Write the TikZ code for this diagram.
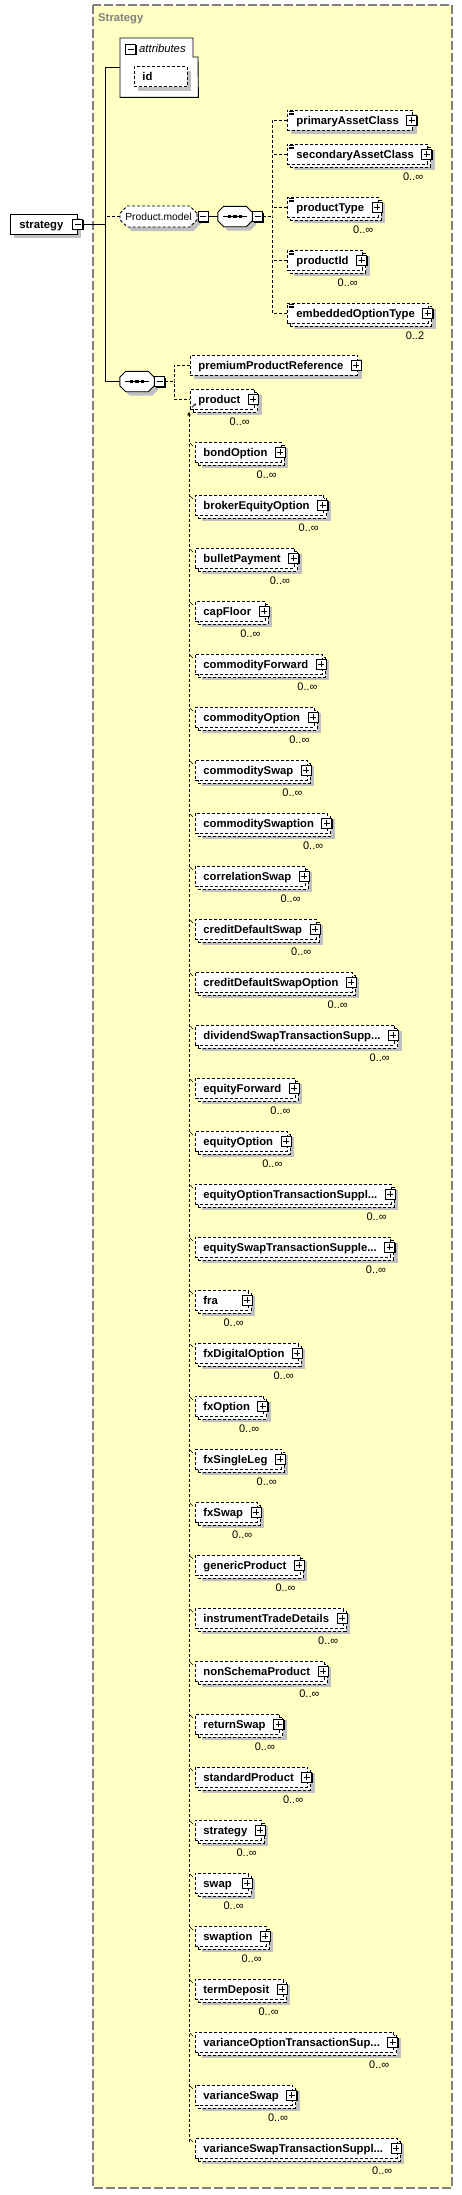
\documentclass[tikz,border=0pt]{standalone}
\usepackage{fontspec}
\setmainfont{Liberation Sans}
\usetikzlibrary{shapes.misc,arrows.meta,calc}
\definecolor{bgyellow}{RGB}{255,255,196}
\definecolor{shgray}{RGB}{192,192,192}
\definecolor{framegray}{RGB}{128,128,128}
\newcommand\xdots{...}
\newcommand\xsdpad[2]{\setbox0=\hbox{\hspace*{#1}#2\hspace*{14pt}}\ifdim\wd0<53pt \wd0=53pt\fi\box0}
\tikzset{
  dsh/.style={dash pattern=on 3pt off 2pt},
  conn/.style={line width=0.9pt},
  elembox/.style={draw, dsh, fill=white, line width=0.9pt, inner sep=0pt, minimum height=20pt,
    text height=9.5pt, text depth=1.5pt, font=\bfseries\fontsize{11.3}{13}\selectfont},
  xsingle/.style={preaction={draw=none, fill=shgray, transform canvas={xshift=4pt,yshift=-4pt}}},
  xmulti/.style={preaction={draw=none, fill=shgray, transform canvas={xshift=7pt,yshift=-6pt}},
    preaction={draw=black, fill=white, dsh, line width=0.9pt, transform canvas={xshift=3pt,yshift=-3pt}}},
  plusbox/.style={draw, solid, fill=white, line width=0.8pt, minimum size=10pt, inner sep=0pt,
    preaction={draw=none, fill=black, transform canvas={xshift=1pt,yshift=-1pt}},
    path picture={\draw[line width=0.8pt] ([xshift=2pt]path picture bounding box.west) -- ([xshift=-2pt]path picture bounding box.east)
      ([yshift=-2pt]path picture bounding box.north) -- ([yshift=2pt]path picture bounding box.south);}},
  minusbox/.style={draw, solid, fill=white, line width=0.8pt, minimum size=10pt, inner sep=0pt,
    preaction={draw=none, fill=black, transform canvas={xshift=1pt,yshift=-1pt}},
    path picture={\draw[line width=0.8pt] ([xshift=2pt]path picture bounding box.west) -- ([xshift=-2pt]path picture bounding box.east);}},
  occ/.style={font=\fontsize{11}{13}\selectfont, inner sep=0pt},
  pmodel/.style={chamfered rectangle, chamfered rectangle xsep=4pt, draw, dsh, fill=white, line width=0.9pt, xsingle,
    minimum width=77pt, minimum height=21pt, inner sep=0pt, font=\fontsize{10.3}{12}\selectfont},
  seqanchor/.style={rectangle, draw=none, minimum width=34pt, minimum height=20pt, inner sep=0pt},
  seqshape/.style={draw, solid, fill=white, line width=0.9pt,
    preaction={draw=none, fill=shgray, transform canvas={xshift=4pt,yshift=-4pt}}},
}
\newcommand\xsdelem[7]{%
  \node[elembox,#6,anchor=west] (#1) at (#2,#3) {\xsdpad{#7}{#4}};
  \node[plusbox] (#1p) at ([xshift=-1.5pt]#1.east) {};
  \ifx\relax#5\relax\else
    \node[occ,anchor=east] (#1o) at ([xshift=-5pt,yshift=-23pt]#1.east) {#5};
  \fi
}
\newcommand\xsdicon[1]{%
  \draw[line width=0.7pt] ([shift={(2pt,-1.5pt)}]#1.north west) -- ++(4.5,0)
    ([shift={(2pt,-3.3pt)}]#1.north west) -- ++(4.5,0)
    ([shift={(2pt,-5.1pt)}]#1.north west) -- ++(4.5,0);}
\newcommand\xsdseq[1]{%
  \draw[seqshape] ([xshift=6pt]#1.north west) -- ([xshift=-6pt]#1.north east) -- ([yshift=-6pt]#1.north east)
    -- ([yshift=6pt]#1.south east) -- ([xshift=-6pt]#1.south east) -- ([xshift=6pt]#1.south west)
    -- ([yshift=6pt]#1.south west) -- ([yshift=-6pt]#1.north west) -- cycle;
  \draw[line width=0.9pt] ([xshift=5pt]#1.west) -- ([xshift=-5pt]#1.east);
  \fill ([xshift=-5.5pt]#1.center) ++(-1.6,-1.6) rectangle ++(3.2,3.2);
  \fill (#1.center) ++(-1.6,-1.6) rectangle ++(3.2,3.2);
  \fill ([xshift=5.5pt]#1.center) ++(-1.6,-1.6) rectangle ++(3.2,3.2);}
\begin{document}
\begin{tikzpicture}[x=1pt,y=-1pt]
\useasboundingbox (0,0) rectangle (462,2195);
% frame
\draw[fill=bgyellow, draw=framegray, dash pattern=on 9pt off 3pt, line width=1.2pt] (93,5) rectangle (452,2188);
\node[anchor=west, text=framegray, font=\bfseries\fontsize{11.3}{13}\selectfont, inner sep=0pt] (title) at (98,19) {Strategy};
% attributes
\node[minimum width=78pt, minimum height=59pt, anchor=north west, inner sep=0pt] (attr) at (120,38) {};
\draw[fill=white, line width=0.9pt] (attr.north west) -- ++(73,0) -- ++(0,19) -- ++(5,0) -- (attr.south east) -- (attr.south west) -- cycle;
\node[minusbox] (attrmin) at (130.5,49) {};
\node[anchor=west, inner sep=0pt, font=\itshape\fontsize{11.3}{13}\selectfont] (attrlbl) at (139,48) {attributes};
\node[elembox, xsingle, anchor=west] (id) at (134,76.5) {\xsdpad{8pt}{id}};
% root
\node[elembox, solid, xsingle, anchor=west] (strategy) at (10,224) {\xsdpad{9pt}{strategy}};
\node[minusbox] (smin) at (strategy.east) {};
% model group
\node[pmodel] (pm) at (158.5,216.5) {Product.model};
\node[minusbox] (pmmin) at ([xshift=5.5pt]pm.east) {};
\node[seqanchor] (seq1) at (235,216.5) {};
\xsdseq{seq1}
\node[minusbox] (seq1min) at ([xshift=5.5pt]seq1.east) {};
\node[seqanchor] (seq2) at (137,381.5) {};
\xsdseq{seq2}
\node[minusbox] (seq2min) at ([xshift=5.5pt]seq2.east) {};
% trunk connectors
\coordinate (trunk) at (105,224);
\coordinate (trunkbot) at (105,381.5);
\draw[conn] (smin.east) -- (trunk);
\draw[conn] (attr.west) -| (trunkbot) -- (seq2.west);
\draw[conn, dsh] (pm.west) -- (pm.west -| trunk);
\draw[conn] (pmmin.east) -- (seq1.west);
% first sequence children
\xsdelem{pac}{287}{120}{primaryAssetClass}{}{xsingle}{9pt}
\xsdelem{sac}{287}{154}{secondaryAssetClass}{0..∞}{xmulti}{9pt}
\xsdelem{ptype}{287}{207}{productType}{0..∞}{xmulti}{9pt}
\xsdelem{pid}{287}{260}{productId}{0..∞}{xmulti}{9pt}
\xsdelem{eot}{287}{313}{embeddedOptionType}{0..2}{xmulti}{9pt}
\xsdicon{pac}\xsdicon{sac}\xsdicon{ptype}\xsdicon{pid}\xsdicon{eot}
\coordinate (v1) at (272,216.5);
\draw[conn, dsh] (seq1min.east) -- (v1);
\draw[conn, dsh] (pac.west) -| (v1) |- (eot.west);
\draw[conn, dsh] (sac.west) -- (sac.west -| v1);
\draw[conn, dsh] (ptype.west) -- (ptype.west -| v1);
\draw[conn, dsh] (pid.west) -- (pid.west -| v1);
% second sequence children
\xsdelem{ppr}{190}{365}{premiumProductReference}{}{xsingle}{8pt}
\xsdelem{product}{190}{399}{product}{0..∞}{xmulti}{8pt}
\coordinate (v2) at (174,381.5);
\draw[conn, dsh] (seq2min.east) -- (v2);
\draw[conn, dsh] (ppr.west) -| (v2) |- (product.west);
\draw[line width=0.7pt, -{Stealth[length=2.5pt,width=2.5pt]}] ([shift={(2pt,2pt)}]product.south west) -- ++(4,-4);
% substitution group members
\foreach \nm [count=\i from 0] in {bondOption, brokerEquityOption, bulletPayment, capFloor, commodityForward,
  commodityOption, commoditySwap, commoditySwaption, correlationSwap, creditDefaultSwap, creditDefaultSwapOption,
  dividendSwapTransactionSupp\xdots, equityForward, equityOption, equityOptionTransactionSuppl\xdots,
  equitySwapTransactionSupple\xdots, fra, fxDigitalOption, fxOption, fxSingleLeg, fxSwap, genericProduct,
  instrumentTradeDetails, nonSchemaProduct, returnSwap, standardProduct, strategy, swap, swaption, termDeposit,
  varianceOptionTransactionSup\xdots, varianceSwap, varianceSwapTransactionSuppl\xdots} {
  \xsdelem{m\i}{195}{452+53*\i}{\nm}{0..∞}{xmulti}{8pt}
}
\coordinate (sgtop) at ([shift={(-1pt,-2pt)}]product.south west);
\coordinate (sgb) at (sgtop |- m32.north west);
\draw[conn, dsh, -{Latex[length=4pt,width=4pt]}] ([yshift=-4pt]sgb) -- (sgtop);
\foreach \i in {0,...,32} {
  \coordinate (t\i) at (sgtop |- m\i.north west);
  \draw[line width=0.6pt] ([shift={(1pt,-1.5pt)}]t\i) -- ++(3,3);
}
\end{tikzpicture}
\end{document}
